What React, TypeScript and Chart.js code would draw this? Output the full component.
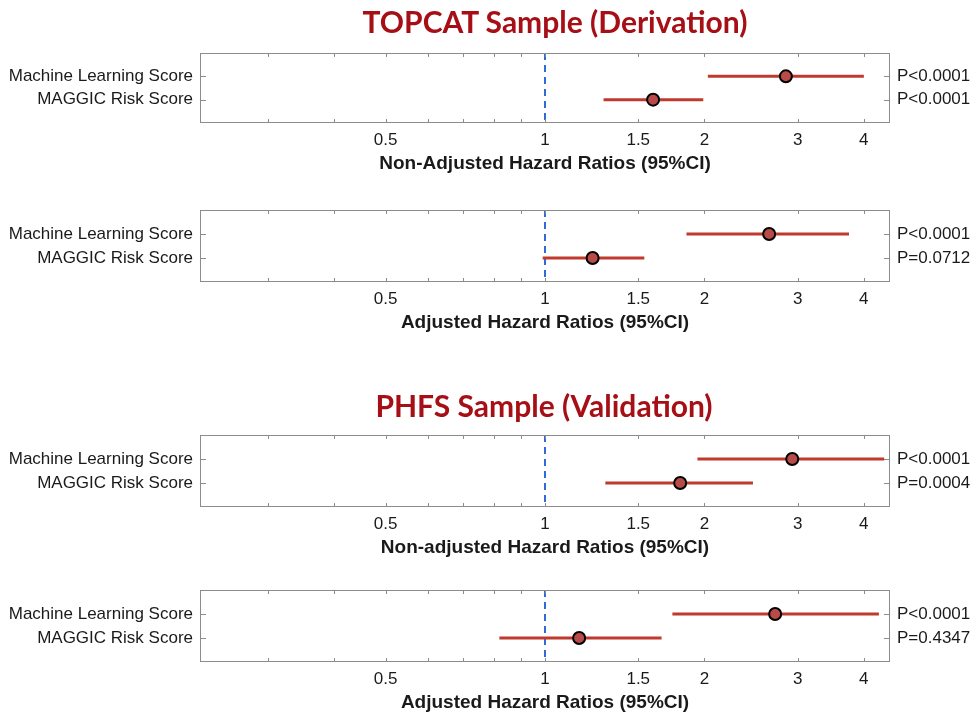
import React, { useEffect, useRef } from "react";
import { Chart, registerables } from "chart.js";

Chart.register(...registerables);

// ---------- data ----------
const categories = ["Machine Learning Score", "MAGGIC Risk Score"];
const majorTicks = [0.5, 1, 1.5, 2, 3, 4];
const minorTicks = [0.3, 0.4, 0.6, 0.7, 0.8, 0.9];
const referenceHR = 1;

// TOPCAT, non-adjusted
const topcatNonAdjHR = [2.85, 1.6];
const topcatNonAdjLow = [2.03, 1.29];
const topcatNonAdjHigh = [4.0, 1.99];
const topcatNonAdjP = ["P<0.0001", "P<0.0001"];

// TOPCAT, adjusted
const topcatAdjHR = [2.65, 1.23];
const topcatAdjLow = [1.85, 0.99];
const topcatAdjHigh = [3.75, 1.54];
const topcatAdjP = ["P<0.0001", "P=0.0712"];

// PHFS, non-adjusted
const phfsNonAdjHR = [2.93, 1.8];
const phfsNonAdjLow = [1.94, 1.3];
const phfsNonAdjHigh = [4.37, 2.47];
const phfsNonAdjP = ["P<0.0001", "P=0.0004"];

// PHFS, adjusted
const phfsAdjHR = [2.72, 1.16];
const phfsAdjLow = [1.74, 0.82];
const phfsAdjHigh = [4.27, 1.66];
const phfsAdjP = ["P<0.0001", "P=0.4347"];

// ---------- style ----------
const FONT = "'Liberation Sans', Arial, Helvetica, sans-serif";
const TEXT = "#1a1a1a";
const AXIS_MIN = Math.exp(-1.5);
const AXIS_MAX = Math.exp(1.5);
const W = 975;
const BOX_LEFT = 200;
const BOX_RIGHT = 890;
const PAD_TOP = 22;
const BELOW = 56;

const framePlugin = {
  id: "frame",
  afterDatasetsDraw(chart: any) {
    const { ctx, chartArea } = chart;
    const { left, right, top, bottom } = chartArea;
    const xs = chart.scales.x;
    const ys = chart.scales.y;
    ctx.save();
    ctx.strokeStyle = "#8c8c8c";
    ctx.lineWidth = 1;
    ctx.strokeRect(left + 0.5, top + 0.5, right - left - 1, bottom - top - 1);
    ctx.beginPath();
    xs.ticks.forEach((t: any) => {
      const px = Math.round(xs.getPixelForValue(t.value)) + 0.5;
      ctx.moveTo(px, top);
      ctx.lineTo(px, top + 4);
      ctx.moveTo(px, bottom);
      ctx.lineTo(px, bottom - 4);
    });
    ys.ticks.forEach((t: any) => {
      const py = Math.round(ys.getPixelForValue(t.value)) + 0.5;
      ctx.moveTo(left, py);
      ctx.lineTo(left + 6, py);
      ctx.moveTo(right, py);
      ctx.lineTo(right - 6, py);
    });
    ctx.stroke();
    ctx.restore();
  },
};

type PanelProps = {
  hr: number[];
  low: number[];
  high: number[];
  pvals: string[];
  xTitle: string;
  boxTop: number;
  boxBottom: number;
};

function ForestPanel({ hr, low, high, pvals, xTitle, boxTop, boxBottom }: PanelProps) {
  const ref = useRef<HTMLCanvasElement | null>(null);
  const canvasTop = boxTop - PAD_TOP;
  const height = boxBottom + BELOW - canvasTop;

  useEffect(() => {
    if (!ref.current) return;
    const rows = categories.map((_, i) => i + 1);
    const ciSets = categories.map((_, i) => ({
      label: "ci" + i,
      data: [
        { x: low[i], y: rows[i] },
        { x: high[i], y: rows[i] },
      ],
      showLine: true,
      borderColor: "#bf3a2c",
      borderWidth: 3,
      pointRadius: 0,
      order: 1,
    }));
    const chart = new Chart(ref.current, {
      type: "scatter",
      data: {
        datasets: [
          {
            label: "hr",
            data: hr.map((v, i) => ({ x: v, y: rows[i] })),
            pointRadius: 6,
            pointBackgroundColor: "#b84a48",
            pointBorderColor: "#000000",
            pointBorderWidth: 2,
            order: 0,
          },
          ...ciSets,
          {
            label: "ref",
            data: [
              { x: referenceHR, y: 0 },
              { x: referenceHR, y: 3 },
            ],
            showLine: true,
            borderColor: "#2f6bd6",
            borderWidth: 2,
            borderDash: [7, 5],
            pointRadius: 0,
            order: 2,
          },
        ],
      },
      options: {
        animation: false,
        responsive: false,
        events: [],
        layout: { padding: { top: PAD_TOP, left: 0, right: 0, bottom: 0 } },
        plugins: { legend: { display: false }, tooltip: { enabled: false } },
        scales: {
          x: {
            type: "logarithmic",
            position: "bottom",
            min: AXIS_MIN,
            max: AXIS_MAX,
            afterBuildTicks: (s: any) => {
              s.ticks = [...minorTicks, ...majorTicks]
                .sort((a, b) => a - b)
                .map((v) => ({ value: v }));
            },
            afterFit: (s: any) => {
              s.height = height - PAD_TOP - (boxBottom - boxTop);
            },
            ticks: {
              autoSkip: false,
              maxRotation: 0,
              minRotation: 0,
              padding: 7,
              color: TEXT,
              font: { family: FONT, size: 17 },
              callback: (v: any) => (majorTicks.includes(Number(v)) ? String(v) : ""),
            },
            grid: { display: false, drawTicks: false },
            border: { display: false },
            title: {
              display: true,
              text: xTitle,
              color: TEXT,
              font: { family: FONT, size: 19, weight: "bold" },
              padding: { top: 0, bottom: 3.6 },
            },
          },
          y: {
            type: "linear",
            position: "left",
            min: 0,
            max: 3,
            reverse: true,
            afterBuildTicks: (s: any) => {
              s.ticks = rows.map((v) => ({ value: v }));
            },
            afterFit: (s: any) => {
              s.width = BOX_LEFT;
            },
            ticks: {
              padding: 7,
              color: TEXT,
              font: { family: FONT, size: 17 },
              callback: (v: any) => categories[Number(v) - 1] ?? "",
            },
            grid: { display: false, drawTicks: false },
            border: { display: false },
          },
          y2: {
            type: "linear",
            position: "right",
            min: 0,
            max: 3,
            reverse: true,
            afterBuildTicks: (s: any) => {
              s.ticks = rows.map((v) => ({ value: v }));
            },
            afterFit: (s: any) => {
              s.width = W - BOX_RIGHT;
            },
            ticks: {
              padding: 7,
              color: TEXT,
              font: { family: FONT, size: 17 },
              callback: (v: any) => pvals[Number(v) - 1] ?? "",
            },
            grid: { display: false, drawTicks: false },
            border: { display: false },
          },
        },
      } as any,
      plugins: [framePlugin],
    });
    return () => chart.destroy();
  }, []);

  return (
    <canvas
      ref={ref}
      width={W}
      height={height}
      style={{ position: "absolute", left: 0, top: canvasTop, width: W, height }}
    />
  );
}

const titleStyle = (cx: number, cy: number): React.CSSProperties => ({
  position: "absolute",
  left: cx,
  top: cy,
  transform: "translate(-50%, -50%)",
  whiteSpace: "nowrap",
  fontFamily: "Lato, 'Open Sans', sans-serif",
  fontWeight: 700,
  fontSize: 30,
  lineHeight: 1,
  color: "#a50f15",
});

export default function App() {
  return (
    <div style={{ position: "absolute", left: 0, top: 0, width: W, height: 721, background: "#fff", overflow: "hidden" }}>
      <ForestPanel
        hr={topcatNonAdjHR}
        low={topcatNonAdjLow}
        high={topcatNonAdjHigh}
        pvals={topcatNonAdjP}
        xTitle="Non-Adjusted Hazard Ratios (95%CI)"
        boxTop={53}
        boxBottom={123}
      />
      <ForestPanel
        hr={topcatAdjHR}
        low={topcatAdjLow}
        high={topcatAdjHigh}
        pvals={topcatAdjP}
        xTitle="Adjusted Hazard Ratios (95%CI)"
        boxTop={210}
        boxBottom={282}
      />
      <ForestPanel
        hr={phfsNonAdjHR}
        low={phfsNonAdjLow}
        high={phfsNonAdjHigh}
        pvals={phfsNonAdjP}
        xTitle="Non-adjusted Hazard Ratios (95%CI)"
        boxTop={435}
        boxBottom={507}
      />
      <ForestPanel
        hr={phfsAdjHR}
        low={phfsAdjLow}
        high={phfsAdjHigh}
        pvals={phfsAdjP}
        xTitle="Adjusted Hazard Ratios (95%CI)"
        boxTop={590}
        boxBottom={662}
      />
      <div style={titleStyle(555, 21)}>TOPCAT Sample (Derivation)</div>
      <div style={titleStyle(544, 405)}>PHFS Sample (Validation)</div>
    </div>
  );
}
